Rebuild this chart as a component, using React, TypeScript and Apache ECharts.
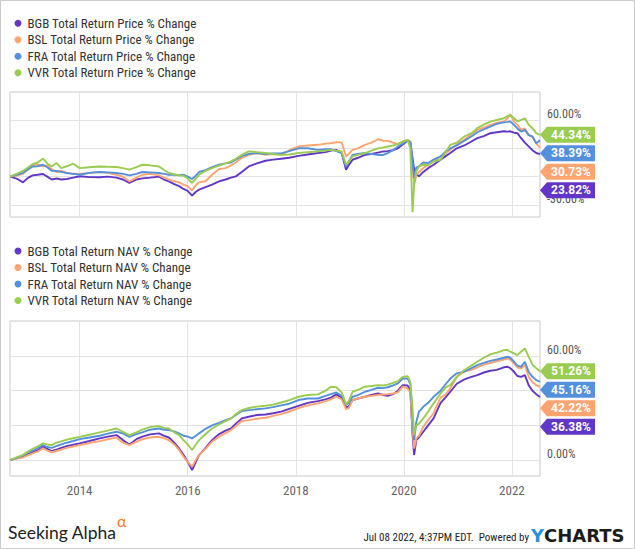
import React, { useEffect, useRef } from 'react';
import * as echarts from 'echarts';

// Decimal-year dates shared by all series
const DATES = [
  2012.71, 2012.83, 2012.95, 2013.05, 2013.13, 2013.22, 2013.32, 2013.40, 2013.48, 2013.57,
  2013.66, 2013.76, 2013.88, 2014.00, 2014.18, 2014.37, 2014.52, 2014.68, 2014.80, 2014.92,
  2015.05, 2015.16, 2015.30, 2015.47, 2015.56, 2015.65, 2015.75, 2015.84, 2015.92, 2016.00,
  2016.08, 2016.15, 2016.21, 2016.33, 2016.45, 2016.58, 2016.70, 2016.80, 2016.89, 2017.00,
  2017.13, 2017.28, 2017.44, 2017.58, 2017.73, 2017.88, 2018.05, 2018.22, 2018.41, 2018.55,
  2018.65, 2018.75, 2018.85, 2018.93, 2018.98, 2019.05, 2019.15, 2019.28, 2019.40, 2019.52,
  2019.62, 2019.70, 2019.80, 2019.89, 2019.98, 2020.07, 2020.12, 2020.16, 2020.19, 2020.23,
  2020.28, 2020.36, 2020.45, 2020.55, 2020.68, 2020.78, 2020.86, 2020.98, 2021.12, 2021.25,
  2021.36, 2021.48, 2021.60, 2021.72, 2021.85, 2021.92, 2021.97, 2022.04, 2022.10, 2022.17,
  2022.24, 2022.31, 2022.38, 2022.45, 2022.52,
];

// Total return price % change
const BGB_PRICE = [
  0, -2, -6, -1, 1.4, 2, 2.8, 0, -3, -2,
  -3, -2.5, -1, 0.4, -0.5, -0.7, 0, -1, -3, -6.5,
  -3, -1.8, -1, 0, -3, -5, -8, -10, -13, -15,
  -20, -16, -13.7, -11, -8.4, -5, -3, -1, 0.3, 5,
  10.8, 14, 16.8, 18, 19, 20, 22, 23.5, 25, 26,
  27.5, 28.4, 25, 7.4, 12, 17.9, 20, 23, 24, 25.5,
  26.7, 27, 28, 30, 34, 38, 37, 20, 8, 3,
  0.3, 5, 9, 12.6, 17.9, 22, 25, 30, 33, 37.2,
  40.7, 43, 46, 47, 48, 47.7, 48, 46.5, 46, 40.7,
  36, 32, 28, 25, 23.82,
];
const BSL_PRICE = [
  0, 1, 3, 8, 12, 13, 10.8, 12, 8, 4.9,
  6, 4, 3, 2.8, 4, 4.9, 4, 2, 0, -4.9,
  -1, 2, 3, 1.4, -1, -3, -4.9, -6, -8.4, -10,
  -14.7, -9, -6, -4.9, 2, 8, 9, 12, 15, 20,
  23, 25, 23, 24, 23, 28, 32, 33, 33.7, 35,
  35.4, 36.5, 36, 21.4, 24, 28.4, 30, 33.7, 36, 39.6,
  38, 37.9, 36, 34.4, 37, 38.5, 37, 10, -8.4, 2,
  5, 9, 12.6, 16, 21.4, 25, 28.4, 34, 39, 45,
  49.5, 52, 54.7, 57, 58.2, 62, 66, 58, 55, 49.5,
  51, 44, 42, 35, 30.73,
];
const FRA_PRICE = [
  0, 2, 4, 8, 10.8, 11, 12.6, 10, 6.3, 6,
  5, 3.9, 3, 2, 4, 4.9, 4.5, 3.9, 3, 1.4,
  3, 4.9, 4.5, 3.9, 3, 2, 2, 1.5, 2, 0,
  -2.5, 1, 4.9, 7, 10, 12.6, 14, 15, 18, 22,
  24, 25, 24, 24.5, 24.6, 27, 30, 30, 28.4, 29,
  29, 27, 25, 10.8, 16, 23, 24, 25, 24, 23,
  23, 25, 28, 31.9, 35, 38.5, 36, 15, -1.4, 9.5,
  10.8, 15, 14.4, 18, 21.4, 27, 30, 33, 38, 42.5,
  47, 50, 53, 55.8, 57.5, 58, 58.5, 54.7, 51, 47.7,
  49.5, 44, 42.5, 35.4, 38.39,
];
const VVR_PRICE = [
  0, 3, 6, 10, 13.3, 15, 19, 14, 10.8, 14.4,
  9, 11, 13.7, 9, 10, 10.8, 10.5, 10.2, 9, 7.4,
  10, 12.6, 12, 10.8, 7, 3.9, 2.5, 1.4, 1, -2,
  -6.7, -2, 2, 6, 9, 11.6, 14, 16.1, 19, 23,
  26.7, 26, 25, 24, 23, 23.5, 25, 26, 26.7, 27.5,
  28.4, 27.5, 26.7, 12.6, 16, 21.4, 23, 25, 27.5, 30,
  31, 31.9, 33, 34.4, 37, 39, 30, -37.6, -8.4, 5.6,
  10.8, 12.6, 12, 16, 17.9, 26.7, 33.7, 36, 42.5, 46,
  51.3, 55, 58.3, 60, 61.8, 64, 65, 61.8, 58.6, 60,
  61.8, 55, 51.3, 46, 44.34,
];

// Total return NAV % change
const BGB_NAV = [
  0, 1, 2, 3.5, 4.5, 5.5, 7.7, 6.5, 5.2, 6,
  7, 8, 8.8, 9.6, 11, 12.5, 13.5, 14.4, 11.5, 9,
  12, 13.5, 14.8, 15.4, 14, 13, 10, 6.7, 3, -1,
  -5.8, -1, 2.9, 7, 11.5, 15, 17, 18.2, 21, 24,
  25, 26, 26.3, 27, 27.9, 29.5, 31.3, 33, 34, 35,
  36, 37.9, 36, 30.2, 31, 34.6, 35.5, 36.5, 37.5, 38.4,
  37.5, 37, 38, 40, 43.2, 43, 40, 15, 2.9, 11.5,
  13, 16.3, 20, 24, 33, 36.5, 39.4, 44, 46.5, 48,
  49, 50.5, 51.5, 52, 53.5, 53.8, 53, 50.9, 48.5, 48,
  49, 43.2, 40, 38, 36.38,
];
const BSL_NAV = [
  0, 0.8, 1.5, 2.8, 3.8, 4.8, 6.7, 5.5, 4.5, 5.2,
  6, 7, 7.8, 8.6, 9.8, 10.9, 12, 12.9, 10, 8.6,
  10.5, 12, 13, 13.4, 12.5, 11.5, 9, 5.8, 2, -1,
  -3.8, 0, 2.9, 6.5, 10.6, 13.5, 15.5, 17.3, 19.5, 22.5,
  23, 23.8, 24.4, 25.5, 26.5, 28, 30, 31.5, 32.7, 34,
  35, 36.5, 35, 29.4, 30, 34.6, 35.5, 36.5, 37, 37.5,
  37.8, 38, 38.4, 39, 42.3, 41.3, 39, 18, 6.7, 12.5,
  14, 19.2, 23, 27, 36, 38, 41.3, 48, 51, 52,
  53.5, 55, 56, 57, 58, 58.6, 58, 55.7, 53.5, 52.8,
  54.8, 48, 45, 43.2, 42.22,
];
const FRA_NAV = [
  0, 1.2, 2.5, 4.5, 5.5, 6.8, 8.6, 7.5, 7, 8,
  9, 10, 11, 12.1, 13, 14, 15.2, 16.3, 15.4, 13.4,
  15, 16, 17.5, 18.2, 17.5, 17.3, 16.5, 15.4, 14, 13.5,
  12.5, 14, 15.4, 18, 20, 21.5, 23, 24, 26, 28.2,
  28.8, 29.3, 29.8, 30.5, 31.5, 32.5, 34.6, 35.5, 35.5, 37,
  38, 39, 37, 31.7, 33, 36.5, 37.5, 39.4, 40.5, 41.7,
  41.5, 42, 43, 44.2, 47, 47, 44, 25, 11.5, 22,
  27.9, 30.7, 33, 36.5, 40, 44, 47, 50, 51, 53,
  54.8, 56, 57.2, 58, 59, 59.6, 59, 56.7, 54.5, 53.8,
  56.7, 50.9, 48, 46.1, 45.16,
];
const VVR_NAV = [
  0, 1.5, 3, 5, 6.5, 7.8, 9.6, 9, 8.6, 10,
  10.8, 11.8, 12.6, 13.4, 14.6, 16, 17, 18.2, 16.3, 14.4,
  16, 17.5, 19, 19.6, 18.5, 18.2, 16, 14.4, 11.5, 9,
  5.8, 9, 11.5, 15, 18.2, 20.5, 22.5, 24, 26.5, 28.8,
  30, 30.8, 31.3, 32, 33.2, 34.6, 36.5, 37.5, 37.9, 40,
  42.3, 42, 39, 32.1, 34, 39.4, 40.5, 42.3, 42.7, 43.2,
  43, 43.5, 44.5, 45.5, 48, 48.4, 45, 30, 14.4, 20,
  21, 24, 28, 32.7, 38.4, 42, 43.2, 48, 51.9, 54.5,
  56.7, 59, 61, 62, 63.4, 63.5, 62.5, 61.5, 60.5, 62.5,
  64.4, 59.6, 55, 53, 51.26,
];

const PRICE_NAMES = [
  'BGB Total Return Price % Change',
  'BSL Total Return Price % Change',
  'FRA Total Return Price % Change',
  'VVR Total Return Price % Change',
];
const NAV_NAMES = [
  'BGB Total Return NAV % Change',
  'BSL Total Return NAV % Change',
  'FRA Total Return NAV % Change',
  'VVR Total Return NAV % Change',
];
const COLORS = ['#6236c7', '#ffa46f', '#5590dd', '#99cc4f'];

const TOP_AXIS_LABELS = [60, -30];
const BOTTOM_AXIS_LABELS = [60, 0];
const YEAR_LABELS = [2014, 2016, 2018, 2020, 2022];

const COND = "'Roboto Condensed','Liberation Sans Narrow','Arial Narrow',Roboto,sans-serif";
const FLAG_PATH = 'path://M0,8L7,0L55,0L55,16L7,16Z';
const FLAG_W = 55;
const FLAG_H = 16;
const FLAG_STEP = 18.5;

const pctFormatter = (shown: number[]) => (v: number) =>
  shown.some((s) => Math.abs(s - v) < 1e-6) ? v.toFixed(2) + '%' : '';

const yearFormatter = (v: number) =>
  YEAR_LABELS.some((y) => Math.abs(y - v) < 1e-6) ? String(Math.round(v)) : '';

export default function App() {
  const ref = useRef<HTMLDivElement>(null);

  useEffect(() => {
    document.body.style.margin = '0';
    const chart = echarts.init(ref.current as HTMLDivElement, null, { renderer: 'svg' });
    const priceSets = [BGB_PRICE, BSL_PRICE, FRA_PRICE, VVR_PRICE];
    const navSets = [BGB_NAV, BSL_NAV, FRA_NAV, VVR_NAV];
    const toPairs = (vals: number[]) => DATES.map((d, i) => [d, vals[i]]);

    const mkLine = (name: string, vals: number[], k: number, axis: number) => ({
      type: 'line',
      name,
      xAxisIndex: axis,
      yAxisIndex: axis,
      data: toPairs(vals),
      showSymbol: false,
      symbol: 'none',
      lineStyle: { width: 1.9, color: COLORS[k] },
      itemStyle: { color: COLORS[k] },
      emphasis: { disabled: true },
    });

    const series: any[] = [
      ...priceSets.map((v, k) => mkLine(PRICE_NAMES[k], v, k, 0)),
      ...navSets.map((v, k) => mkLine(NAV_NAMES[k], v, k, 1)),
    ];

    const xAxisBase = {
      type: 'value',
      min: DATES[0],
      max: DATES[DATES.length - 1],
      splitNumber: 5,
      axisLine: { show: false },
      axisTick: { show: false },
      splitLine: { show: true, lineStyle: { color: '#e3e3e3', width: 1 } },
    };
    const yAxisBase = {
      type: 'value',
      position: 'right',
      splitNumber: 4,
      axisLine: { show: false },
      axisTick: { show: false },
      splitLine: { show: true, lineStyle: { color: '#e3e3e3', width: 1 } },
    };
    const legendBase = {
      orient: 'vertical',
      left: 14.5,
      padding: 0,
      icon: 'circle',
      itemWidth: 9,
      itemHeight: 7,
      itemGap: 2.5,
      selectedMode: false,
      textStyle: { fontFamily: COND, fontSize: 13, color: '#333', lineHeight: 14 },
    };

    const option: any = {
      animation: false,
      backgroundColor: '#ffffff',
      legend: [
        { ...legendBase, top: 16.3, data: PRICE_NAMES },
        { ...legendBase, top: 244, data: NAV_NAMES },
      ],
      grid: [
        { left: 10, top: 92, width: 530, height: 125, show: true, borderColor: '#c8c8c8', borderWidth: 1, backgroundColor: 'transparent' },
        { left: 10, top: 321, width: 530, height: 155, show: true, borderColor: '#c8c8c8', borderWidth: 1, backgroundColor: 'transparent' },
      ],
      xAxis: [
        { ...xAxisBase, gridIndex: 0, axisLabel: { show: false } },
        {
          ...xAxisBase,
          gridIndex: 1,
          axisLabel: { show: true, formatter: yearFormatter, color: '#666', fontSize: 13, fontFamily: COND, margin: 8 },
        },
      ],
      yAxis: [
        {
          ...yAxisBase,
          gridIndex: 0,
          min: -42.7,
          max: 89.6,
          axisLabel: { formatter: pctFormatter(TOP_AXIS_LABELS), color: '#555', fontSize: 12, fontFamily: COND, margin: 7, verticalAlign: 'bottom', lineHeight: 12 },
        },
        {
          ...yAxisBase,
          gridIndex: 1,
          min: -9.2,
          max: 80.2,
          axisLabel: { formatter: pctFormatter(BOTTOM_AXIS_LABELS), color: '#555', fontSize: 12, fontFamily: COND, margin: 7, verticalAlign: 'bottom', lineHeight: 12 },
        },
      ],
      series,
      graphic: [
        { type: 'rect', shape: { x: 0.5, y: 0.5, width: 634, height: 548 }, style: { fill: 'none', stroke: '#cccccc', lineWidth: 1 }, silent: true },
        { type: 'text', x: 8, y: 532, style: { text: 'Seeking Alpha', font: '17.5px Lato', fill: '#222', verticalAlign: 'middle' } },
        { type: 'text', x: 117, y: 520, style: { text: 'α', font: '16px Lato', fill: '#ff7f0e', verticalAlign: 'middle' } },
        { type: 'text', x: 529, y: 537, style: { text: 'Jul 08 2022, 4:37PM EDT.  Powered by', font: `11px ${COND}`, fill: '#222', align: 'right', verticalAlign: 'middle' } },
        { type: 'text', x: 531, y: 535, style: { text: 'Y', font: 'bold 18px "DejaVu Sans"', fill: '#2a8fd8', verticalAlign: 'middle' } },
        { type: 'text', x: 544, y: 535, style: { text: 'CHARTS', font: 'bold 18px "DejaVu Sans"', fill: '#1c1c1c', verticalAlign: 'middle' } },
      ],
    };

    chart.setOption(option);

    // Place end-of-line flags, pushing them apart so they do not overlap
    const lastX = DATES[DATES.length - 1];
    const updates: any[] = series.map(() => ({}));
    const placeFlags = (gridIndex: number, sets: number[][], offset: number) => {
      const items = sets
        .map((vals, k) => {
          const v = vals[vals.length - 1];
          const py = (chart.convertToPixel({ gridIndex } as any, [lastX, v]) as number[])[1];
          return { k, v, py, fy: py };
        })
        .sort((a, b) => a.py - b.py);
      let prev = -Infinity;
      items.forEach((it) => {
        it.fy = Math.max(it.py, prev + FLAG_STEP);
        prev = it.fy;
      });
      items.forEach((it) => {
        updates[offset + it.k] = {
          markPoint: {
            silent: true,
            symbol: FLAG_PATH,
            symbolSize: [FLAG_W, FLAG_H],
            symbolOffset: [FLAG_W / 2, it.fy - it.py],
            itemStyle: { color: COLORS[it.k] },
            label: {
              show: true,
              position: 'inside',
              offset: [3.5, 0],
              color: '#ffffff',
              fontSize: 12,
              fontWeight: 'bold',
              fontFamily: 'Roboto',
              formatter: (p: any) => Number(p.value).toFixed(2) + '%',
            },
            data: [{ coord: [lastX, it.v], value: it.v }],
          },
        };
      });
    };
    placeFlags(0, priceSets, 0);
    placeFlags(1, navSets, 4);
    chart.setOption({ series: updates });

    return () => chart.dispose();
  }, []);

  return <div ref={ref} style={{ width: 635, height: 549 }} />;
}
